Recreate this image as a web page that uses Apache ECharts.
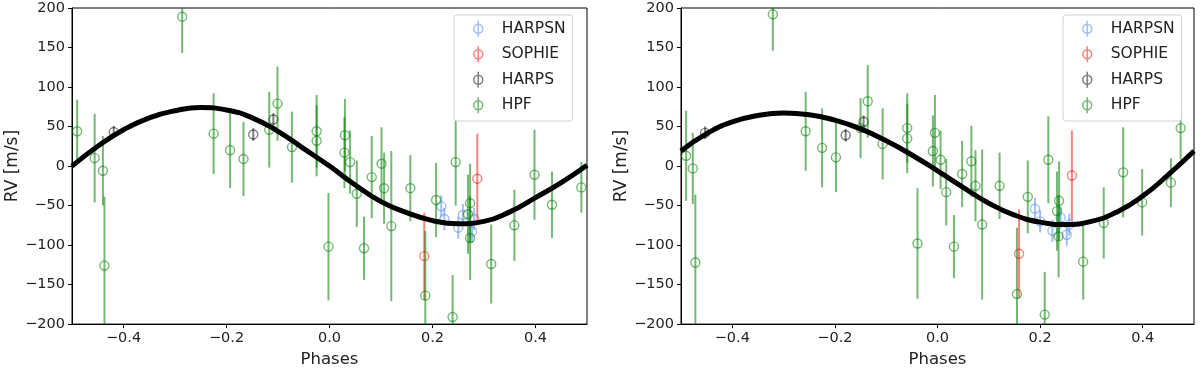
<!DOCTYPE html>
<html>
<head>
<meta charset="utf-8">
<script src="https://cdn.jsdelivr.net/npm/echarts@6/dist/echarts.min.js"></script>
<style>html,body{margin:0;padding:0;background:#fff;}#c{width:1200px;height:373px;}</style>
</head>
<body>
<div id="c"></div>
<script>
// ---- tick labels ----
const xTickValues = [-0.4, -0.2, 0, 0.2, 0.4];
const xTickLabels = ['\u22120.4', '\u22120.2', '0.0', '0.2', '0.4'];
const instruments = ['HARPSN', 'SOPHIE', 'HARPS', 'HPF'];

// ---- model curves ----
const curvePhase = [-0.5, -0.45, -0.4, -0.35, -0.3, -0.25, -0.2, -0.15, -0.1, -0.05, 0, 0.05, 0.1, 0.15, 0.2, 0.25, 0.3, 0.35, 0.4, 0.45, 0.5];
const leftCurve  = [0, 25, 46, 61, 70, 74, 71, 61, 44, 22, 0, -24, -45, -59, -69, -73, -70, -58, -40, -21, 1];
const rightCurve = [19, 41, 56, 64, 67, 65, 58, 47, 32, 14, -6, -27, -47, -62, -71, -74, -70, -58, -38, -11, 19];

// ---- left panel data ----
const L_harpsnPhase = [0.217, 0.223, 0.250, 0.259, 0.277, 0.281];
const L_harpsnRV    = [-51, -67, -78, -62, -83, -67];
const L_harpsnErr   = [14, 14, 14, 14, 14, 14];
const L_sophiePhase = [0.184, 0.287];
const L_sophieRV    = [-114, -16];
const L_sophieErr   = [55, 57];
const L_harpsPhase  = [-0.419, -0.148, -0.109];
const L_harpsRV     = [43, 40, 59];
const L_harpsErr    = [8, 8, 8];
const L_hpfPhase = [-0.490, -0.456, -0.440, -0.437, -0.286, -0.225, -0.193, -0.167, -0.117, -0.101, -0.073, -0.025, -0.025, -0.002, 0.030, 0.029, 0.040, 0.053, 0.067, 0.082, 0.101, 0.106, 0.120, 0.157, 0.207, 0.245, 0.239, 0.186, 0.269, 0.273, 0.273, 0.314, 0.359, 0.398, 0.432, 0.489];
const L_hpfRV    = [44, 10, -6, -126, 189, 41, 20, 9, 46, 79, 24, 44, 32, -102, 39, 17, 5, -35, -104, -14, 3, -28, -76, -28, -43, 5, -191, -164, -61, -47, -91, -124, -75, -11, -49, -27];
const L_hpfErr   = [40, 56, 44, 87, 46, 51, 48, 47, 48, 47, 45, 46, 45, 68, 46, 45, 40, 42, 40, 52, 46, 45, 95, 42, 47, 55, 53, 82, 50, 50, 53, 50, 45, 57, 42, 32];

// ---- right panel data ----
const R_harpsnPhase = [0.190, 0.200, 0.224, 0.240, 0.252, 0.257];
const R_harpsnRV    = [-54, -70, -82, -65, -87, -74];
const R_harpsnErr   = [14, 14, 14, 14, 14, 14];
const R_sophiePhase = [0.159, 0.262];
const R_sophieRV    = [-111, -12];
const R_sophieErr   = [56, 57];
const R_harpsPhase  = [-0.453, -0.179, -0.144];
const R_harpsRV     = [42, 39, 56];
const R_harpsErr    = [8, 8, 8];
const R_hpfPhase = [-0.490, -0.477, -0.472, -0.321, -0.257, -0.225, -0.198, -0.150, -0.136, -0.107, -0.059, -0.059, -0.039, -0.005, -0.009, 0.006, 0.017, 0.032, 0.048, 0.066, 0.074, 0.087, 0.121, 0.155, 0.176, 0.216, 0.209, 0.233, 0.237, 0.236, 0.284, 0.324, 0.362, 0.399, 0.455, 0.474];
const R_hpfRV    = [13, -3, -122, 192, 44, 23, 11, 48, 82, 28, 48, 35, -98, 42, 19, 8, -33, -102, -10, 6, -25, -74, -25, -162, -39, 8, -188, -57, -44, -89, -121, -72, -8, -46, -21, 48];
const R_hpfErr   = [57, 45, 86, 46, 50, 50, 44, 38, 46, 45, 44, 44, 70, 48, 45, 37, 42, 40, 42, 45, 45, 95, 42, 84, 46, 55, 54, 50, 50, 52, 48, 45, 57, 42, 31, 40];

const colors = {
  HARPSN: 'rgba(100,149,237,0.6)',
  SOPHIE: 'rgba(255,0,0,0.5)',
  HARPS: 'rgba(0,0,0,0.5)',
  HPF: 'rgba(0,128,0,0.55)'
};

function zip3(a, b, c) { return a.map((v, i) => [v, b[i], c[i]]); }

function errSeries(name, gridIdx, ph, rv, er) {
  const col = colors[name];
  return {
    type: 'custom', name: name, xAxisIndex: gridIdx, yAxisIndex: gridIdx,
    itemStyle: { color: col }, clip: true, z: 2,
    data: zip3(ph, rv, er),
    renderItem: function (params, api) {
      const x = api.value(0), y = api.value(1), e = api.value(2);
      const c = api.coord([x, y]);
      const t = api.coord([x, y + e]);
      const b = api.coord([x, y - e]);
      const cs = params.coordSys;
      const y1 = Math.max(t[1], cs.y), y2 = Math.min(b[1], cs.y + cs.height);
      return {
        type: 'group', children: [
          { type: 'line', shape: { x1: c[0], y1: y1, x2: c[0], y2: y2 }, style: { stroke: col, lineWidth: 2 } },
          { type: 'circle', shape: { cx: c[0], cy: c[1], r: 4.5 }, style: { fill: 'none', stroke: col, lineWidth: 1.4 } }
        ]
      };
    }
  };
}

function curveSeries(gridIdx, vals) {
  return {
    type: 'line', name: 'model', xAxisIndex: gridIdx, yAxisIndex: gridIdx,
    data: curvePhase.map((p, i) => [p, vals[i]]),
    smooth: true, showSymbol: false, symbol: 'none', z: 5,
    lineStyle: { color: '#000', width: 5 }, silent: true
  };
}

const font = 'DejaVu Sans';
function xAxisCfg(gridIdx) {
  return {
    type: 'value', gridIndex: gridIdx, min: -0.5, max: 0.5,
    name: 'Phases', nameLocation: 'middle', nameGap: 22,
    nameTextStyle: { fontFamily: font, fontSize: 16.5, color: '#222' },
    axisLine: { show: true, onZero: false, lineStyle: { color: '#000', width: 1 } },
    axisTick: { show: true, length: 4, lineStyle: { color: '#000' }, customValues: xTickValues },
    axisLabel: { customValues: xTickValues, margin: 7, fontFamily: font, fontSize: 14.5, color: '#222',
      formatter: v => { const i = xTickValues.findIndex(t => Math.abs(t - v) < 1e-9); return i >= 0 ? xTickLabels[i] : ''; } },
    splitLine: { show: false }
  };
}
function yAxisCfg(gridIdx) {
  return {
    type: 'value', gridIndex: gridIdx, min: -200, max: 200, interval: 50,
    name: 'RV [m/s]', nameLocation: 'middle', nameGap: 50, nameRotate: 90,
    nameTextStyle: { fontFamily: font, fontSize: 17, color: '#222' },
    axisLine: { show: true, onZero: false, lineStyle: { color: '#000', width: 1 } },
    axisTick: { show: true, length: 4, lineStyle: { color: '#000' } },
    axisLabel: { margin: 7, fontFamily: font, fontSize: 14.5, color: '#222',
      formatter: v => String(v).replace('-', '\u2212') },
    splitLine: { show: false }
  };
}
const iconPath = 'path://M0,-8L0,8M-4.5,0a4.5,4.5 0 1,0 9,0a4.5,4.5 0 1,0 -9,0';
function legendCfg(left) {
  return {
    orient: 'vertical', left: left, top: 15,
    padding: [5, 7, 7, 19], itemGap: 8, itemWidth: 9, itemHeight: 16,
    backgroundColor: '#fff', borderColor: '#d0d0d0', borderWidth: 1, borderRadius: 3,
    textStyle: { fontFamily: font, fontSize: 15.5, color: '#222', padding: [0, 0, 0, 14] },
    selectedMode: false,
    data: instruments.map(n => ({ name: n, icon: iconPath,
      itemStyle: { color: 'rgba(0,0,0,0)', borderColor: colors[n], borderWidth: 1.5 } }))
  };
}

const chart = echarts.init(document.getElementById('c'), null, { renderer: 'canvas' });
chart.setOption({
  animation: false,
  backgroundColor: '#fff',
  grid: [
    { left: 72, top: 8, width: 515, height: 320, show: true, borderColor: '#000', borderWidth: 1, backgroundColor: 'transparent' },
    { left: 681, top: 8, width: 513, height: 320, show: true, borderColor: '#000', borderWidth: 1, backgroundColor: 'transparent' }
  ],
  xAxis: [xAxisCfg(0), xAxisCfg(1)],
  yAxis: [yAxisCfg(0), yAxisCfg(1)],
  legend: [legendCfg(454), legendCfg(1063)],
  series: [
    errSeries('HARPSN', 0, L_harpsnPhase, L_harpsnRV, L_harpsnErr),
    errSeries('SOPHIE', 0, L_sophiePhase, L_sophieRV, L_sophieErr),
    errSeries('HARPS', 0, L_harpsPhase, L_harpsRV, L_harpsErr),
    errSeries('HPF', 0, L_hpfPhase, L_hpfRV, L_hpfErr),
    curveSeries(0, leftCurve),
    errSeries('HARPSN', 1, R_harpsnPhase, R_harpsnRV, R_harpsnErr),
    errSeries('SOPHIE', 1, R_sophiePhase, R_sophieRV, R_sophieErr),
    errSeries('HARPS', 1, R_harpsPhase, R_harpsRV, R_harpsErr),
    errSeries('HPF', 1, R_hpfPhase, R_hpfRV, R_hpfErr),
    curveSeries(1, rightCurve)
  ]
});
</script>
</body>
</html>
